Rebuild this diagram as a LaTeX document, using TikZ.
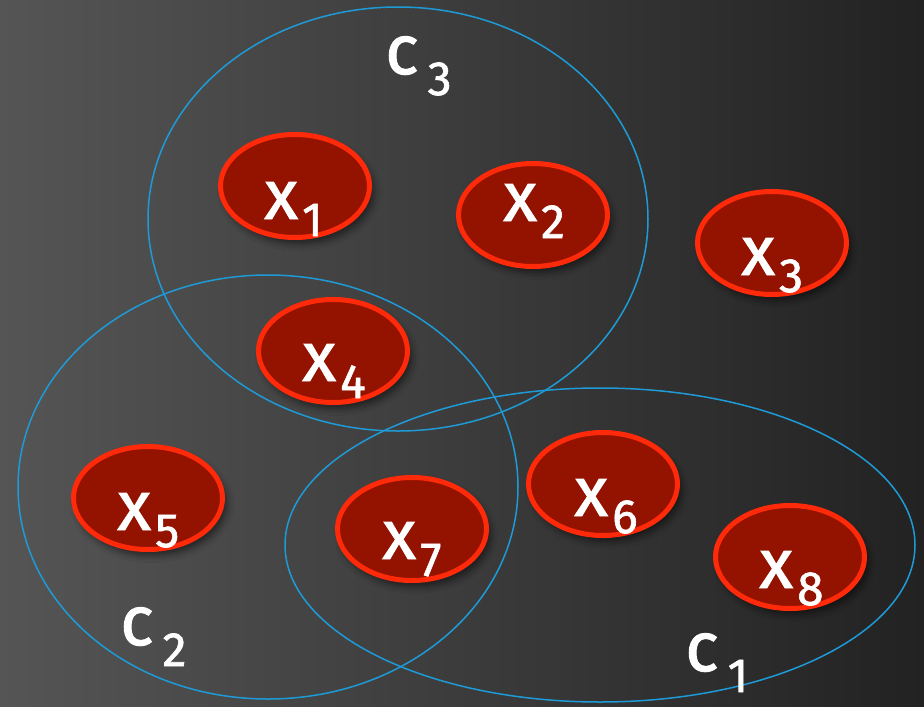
\documentclass[tikz,border=0pt]{standalone}
\usepackage{fontspec}
\newfontfamily\lblfont{Fira Sans}[FakeBold=1.3]
\usetikzlibrary{shapes.geometric,shadows.blur}
\definecolor{bgL}{HTML}{555555}
\definecolor{bgR}{HTML}{222222}
\definecolor{redfill}{HTML}{941200}
\definecolor{redline}{HTML}{FF2A0A}
\definecolor{cblue}{HTML}{1E9BD7}
\newcommand\xlab[1]{{\fontsize{70}{70}\selectfont x}\hspace{4pt}\raisebox{-17pt}{\fontsize{48}{48}\selectfont #1}}
\newcommand\clab[1]{{\fontsize{70}{70}\selectfont c}\hspace{9pt}\raisebox{-21pt}{\fontsize{48}{48}\selectfont #1}}
\tikzset{
  pt/.style={ellipse, draw=redline, fill=redfill, line width=5pt, minimum width=149pt, minimum height=103pt, inner sep=0pt,
    blur shadow={shadow xshift=4pt, shadow yshift=-6pt, shadow blur radius=7pt, shadow opacity=55}},
  lab/.style={anchor=base west, inner sep=0pt, text=white, font=\lblfont},
  clus/.style={draw=cblue, line width=1.5pt}
}
\begin{document}
\begin{tikzpicture}[x=1pt,y=-1pt]
\useasboundingbox (0,0) rectangle (924,707);
\shade[left color=bgL, right color=bgR] (0,0) rectangle (924,707);
% cluster ellipses
\draw[clus] (398,219) ellipse [x radius=250, y radius=212];
\draw[clus] (268,487) ellipse [x radius=250, y radius=212];
\draw[clus] (600,545) ellipse [x radius=315, y radius=157];
% points
\node[pt] (e1) at (295,186) {};
\node[pt] (e2) at (533,215) {};
\node[pt] (e3) at (772,243) {};
\node[pt] (e4) at (333,351) {};
\node[pt] (e5) at (148,498) {};
\node[pt] (e6) at (603,484) {};
\node[pt] (e7) at (412,529) {};
\node[pt] (e8) at (790,557) {};
\node[lab] (t1) at (264,219) {\xlab{1}};
\node[lab] (t2) at (503,221) {\xlab{2}};
\node[lab] (t3) at (741,275) {\xlab{3}};
\node[lab] (t4) at (302,381) {\xlab{4}};
\node[lab] (t5) at (117,530) {\xlab{5}};
\node[lab] (t6) at (574,516) {\xlab{6}};
\node[lab] (t7) at (382,559) {\xlab{7}};
\node[lab] (t8) at (759,588) {\xlab{8}};
\node[lab] (c3) at (385,74) {\clab{3}};
\node[lab] (c2) at (120,645) {\clab{2}};
\node[lab] (c1) at (685,671) {\clab{1}};
\end{tikzpicture}
\end{document}
